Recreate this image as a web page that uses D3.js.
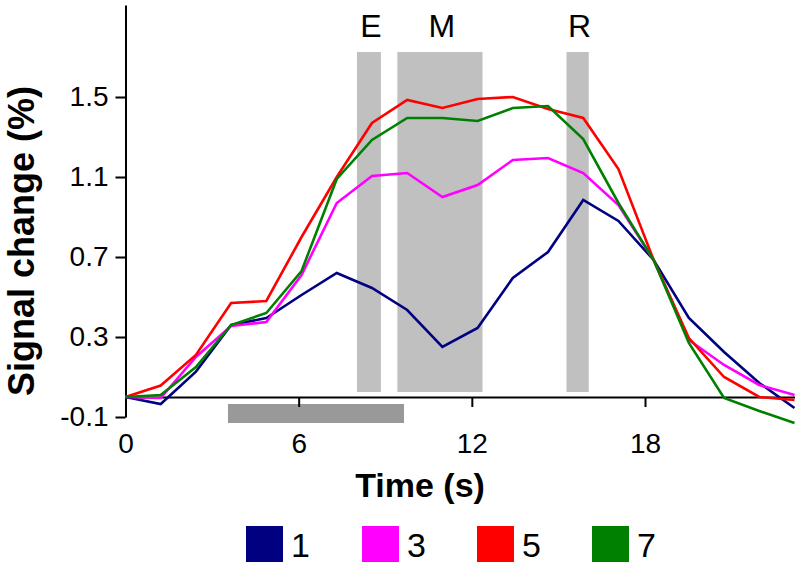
<!DOCTYPE html>
<html>
<head>
<meta charset="utf-8">
<script src="https://cdn.jsdelivr.net/npm/d3@7"></script>
<style>
  html, body { margin: 0; padding: 0; background: #fff; }
  svg { display: block; font-family: "Liberation Sans", Arial, Helvetica, sans-serif; }
</style>
</head>
<body>
<svg id="chart" width="800" height="567"></svg>
<script>
// ---- Data ----
const times = [0, 1.22, 2.44, 3.66, 4.88, 6.10, 7.32, 8.54, 9.76, 10.98, 12.20, 13.42, 14.64, 15.86, 17.08, 18.30, 19.52, 20.74, 21.96, 23.18];
const seriesNames = ["1", "3", "5", "7"];
const series1 = [0.00, -0.035, 0.127, 0.36, 0.395, 0.51, 0.62, 0.545, 0.435, 0.25, 0.345, 0.595, 0.725, 0.985, 0.88, 0.685, 0.395, 0.225, 0.07, -0.055];
const series3 = [0.00, -0.005, 0.20, 0.355, 0.375, 0.61, 0.97, 1.105, 1.12, 1.00, 1.06, 1.185, 1.195, 1.12, 0.96, 0.685, 0.285, 0.16, 0.06, 0.01];
const series5 = [0.00, 0.057, 0.21, 0.47, 0.48, 0.80, 1.10, 1.37, 1.485, 1.445, 1.49, 1.50, 1.44, 1.395, 1.14, 0.685, 0.295, 0.10, 0.00, -0.015];
const series7 = [0.00, 0.01, 0.15, 0.36, 0.42, 0.63, 1.09, 1.285, 1.395, 1.395, 1.38, 1.445, 1.455, 1.29, 0.97, 0.685, 0.27, -0.005, -0.07, -0.13];
const seriesColors = ["#000080", "#ff00ff", "#ff0000", "#008000"];
const xTicks = [0, 6, 12, 18];
const yTicks = [-0.1, 0.3, 0.7, 1.1, 1.5];
const yTickLabels = ["-0.1", "0.3", "0.7", "1.1", "1.5"];
// epochs (start, end in seconds) and labels
const epochLabels = ["E", "M", "R"];
const epochStart = [8.02, 9.42, 15.28];
const epochEnd = [8.85, 12.37, 16.05];
const stimStart = 3.55, stimEnd = 9.65;

// ---- Layout ----
const svg = d3.select("#chart");
const x = d3.scaleLinear().domain([0, 23.18]).range([125.5, 794.5]);
const y = d3.scaleLinear().domain([-0.1, 1.96]).range([417, 5]);

// epoch boxes
epochLabels.forEach((lab, i) => {
  svg.append("rect")
    .attr("x", x(epochStart[i]))
    .attr("y", 52)
    .attr("width", x(epochEnd[i]) - x(epochStart[i]))
    .attr("height", 392 - 52)
    .attr("fill", "#c0c0c0");
  svg.append("text")
    .attr("x", (x(epochStart[i]) + x(epochEnd[i])) / 2 + 2)
    .attr("y", 37)
    .attr("text-anchor", "middle")
    .attr("font-size", 32)
    .attr("fill", "#000")
    .text(lab);
});

// stimulus bar
svg.append("rect")
  .attr("x", x(stimStart))
  .attr("y", 404)
  .attr("width", x(stimEnd) - x(stimStart))
  .attr("height", 19)
  .attr("fill", "#999999");

// axes
const xAxis = svg.append("g")
  .attr("transform", `translate(0,${y(0)})`)
  .call(d3.axisBottom(x).tickValues(xTicks).tickFormat(d3.format("d")).tickSize(10).tickSizeOuter(0).tickPadding(26));
const yAxis = svg.append("g")
  .attr("transform", `translate(${x(0)},0)`)
  .call(d3.axisLeft(y).tickValues(yTicks).tickFormat((d, i) => yTickLabels[i]).tickSize(10).tickSizeOuter(0).tickPadding(7));
[xAxis, yAxis].forEach(g => {
  g.selectAll("path, line").attr("stroke", "#000").attr("stroke-width", 2);
  g.selectAll("text").attr("font-size", 28).attr("fill", "#000")
    .attr("font-family", "'Liberation Sans', Arial, Helvetica, sans-serif");
});
xAxis.selectAll("text").attr("dy", "0.71em");

// lines
const allSeries = [series1, series3, series5, series7];
const line = d3.line().x((d, i) => x(times[i])).y(d => y(d));
allSeries.forEach((s, k) => {
  svg.append("path")
    .datum(s)
    .attr("d", line)
    .attr("fill", "none")
    .attr("stroke", seriesColors[k])
    .attr("stroke-width", 2.6)
    .attr("stroke-linejoin", "miter");
});

// axis titles
svg.append("text")
  .attr("transform", `translate(34,241) rotate(-90)`)
  .attr("text-anchor", "middle")
  .attr("font-size", 36)
  .attr("font-weight", "bold")
  .text("Signal change (%)");
svg.append("text")
  .attr("x", 420)
  .attr("y", 497)
  .attr("text-anchor", "middle")
  .attr("font-size", 34)
  .attr("font-weight", "bold")
  .text("Time (s)");

// legend
const legendX = [246, 362, 477, 592];
seriesNames.forEach((n, k) => {
  svg.append("rect")
    .attr("x", legendX[k]).attr("y", 526)
    .attr("width", 37).attr("height", 36)
    .attr("fill", seriesColors[k]);
  svg.append("text")
    .attr("x", legendX[k] + 45).attr("y", 557)
    .attr("font-size", 34)
    .attr("fill", "#000")
    .text(n);
});
</script>
</body>
</html>
